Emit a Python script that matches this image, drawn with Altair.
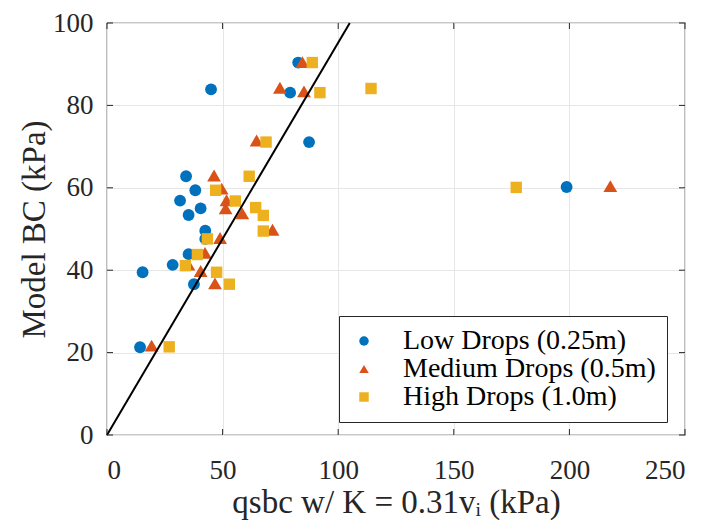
import altair as alt
import pandas as pd

groups = ["Low Drops (0.25m)", "Medium Drops (0.5m)", "High Drops (1.0m)"]
colors = ["#0072BD", "#D95319", "#EDB120"]
shapes = ["circle", "triangle-up", "square"]
sizes = [140, 190, 130]

low_x = [14.3, 15.4, 28.4, 35.3, 37.6, 42.5, 42.5, 35.3, 40.5, 31.6, 38.2, 34.2, 45.0, 82.7, 79.2, 87.4, 198.8]
low_y = [21.3, 39.5, 41.3, 43.9, 36.6, 49.6, 47.6, 53.4, 55.0, 56.9, 59.4, 62.8, 83.9, 90.4, 83.1, 71.1, 60.2]

med_x = [19.3, 35.2, 40.5, 42.4, 46.7, 48.9, 51.3, 51.7, 49.6, 46.3, 58.5, 71.6, 64.7, 74.8, 85.2, 84.5, 217.7]
med_y = [21.7, 41.4, 39.8, 44.2, 36.8, 47.8, 55.0, 57.0, 59.8, 63.0, 53.8, 49.8, 71.5, 84.3, 83.4, 90.5, 60.4]

high_x = [26.9, 33.9, 39.1, 43.4, 47.4, 52.9, 67.6, 67.6, 64.3, 55.5, 47.0, 61.5, 68.8, 92.1, 88.8, 114.2, 177.0]
high_y = [21.4, 41.1, 43.8, 47.6, 39.5, 36.6, 49.5, 53.3, 55.2, 56.8, 59.4, 62.8, 71.1, 83.1, 90.4, 84.1, 60.1]

fit_x = [0, 105]
fit_y = [0, 100]

x_ticks = [0, 50, 100, 150, 200, 250]
y_ticks = [0, 20, 40, 60, 80, 100]

W, H = 578, 412
TOP = 15
FONT = "Liberation Serif"
TXT = "#262626"

rows = []
for g, xs, ys in zip(groups, [low_x, med_x, high_x], [low_y, med_y, high_y]):
    for a, b in zip(xs, ys):
        rows.append({"x": a, "y": b, "group": g})
df = pd.DataFrame(rows)

xscale = alt.Scale(domain=[0, 250], nice=False, zero=False)
yscale = alt.Scale(domain=[0, 100], nice=False, zero=False)

axis_style = dict(grid=True, ticks=False, domain=False,
                  labelFont=FONT, labelFontSize=27, labelColor=TXT,
                  titleFont=FONT, titleFontSize=33, titleFontWeight="normal", titleColor=TXT,
                  gridColor="#e6e6e6", gridWidth=1)
x_axis = alt.Axis(values=x_ticks, title="qsbc w/ K = 0.31vᵢ (kPa)",
                  labelPadding=22, titlePadding=3, **axis_style)
y_axis = alt.Axis(values=y_ticks, title="Model BC (kPa)",
                  labelPadding=14, titlePadding=1, **axis_style)

def X(field):
    return alt.X(field, scale=xscale, axis=x_axis)

def Y(field):
    return alt.Y(field, scale=yscale, axis=y_axis)

legend = alt.Legend(orient="none", legendX=232, legendY=316 - 8 - TOP, title=None,
                    padding=11, strokeColor=TXT, fillColor="white", cornerRadius=0,
                    labelFont=FONT, labelFontSize=28, labelColor="black", labelLimit=0,
                    symbolSize=90, symbolStrokeWidth=0, labelOffset=25, rowPadding=-3,
                    symbolOpacity=1)

base = alt.Chart(df)
layers = []
for g, s in zip(groups, sizes):
    layers.append(
        base.transform_filter(alt.datum.group == g)
        .mark_point(filled=True, opacity=1, strokeWidth=0, size=s)
        .encode(
            x=X("x:Q"), y=Y("y:Q"),
            color=alt.Color("group:N", scale=alt.Scale(domain=groups, range=colors), legend=legend),
            shape=alt.Shape("group:N", scale=alt.Scale(domain=groups, range=shapes), legend=legend),
        )
    )

fit = alt.Chart(pd.DataFrame({"x": fit_x, "y": fit_y})).mark_line(color="black", strokeWidth=2).encode(
    x=X("x:Q"), y=Y("y:Q"),
)

xt = pd.DataFrame({"x": x_ticks})
yt = pd.DataFrame({"y": y_ticks})
tick_style = dict(color=TXT, thickness=1, size=6, opacity=1)
xt_bottom = alt.Chart(xt).mark_tick(**tick_style).encode(x=X("x:Q"), y=alt.value(H - 3))
xt_top = alt.Chart(xt).mark_tick(**tick_style).encode(x=X("x:Q"), y=alt.value(3))
yt_left = alt.Chart(yt).mark_tick(**tick_style).encode(y=Y("y:Q"), x=alt.value(3))
yt_right = alt.Chart(yt).mark_tick(**tick_style).encode(y=Y("y:Q"), x=alt.value(W - 3))

chart = alt.layer(*layers, fit, xt_bottom, xt_top, yt_left, yt_right).properties(
    width=W, height=H,
    autosize=alt.AutoSizeParams(type="none"),
    padding={"left": 99, "top": TOP, "right": 14, "bottom": 88},
    background="white",
).configure_view(
    stroke=TXT, strokeWidth=1.2
)

chart.save("out.html", embed_options={"renderer": "svg", "actions": False})
